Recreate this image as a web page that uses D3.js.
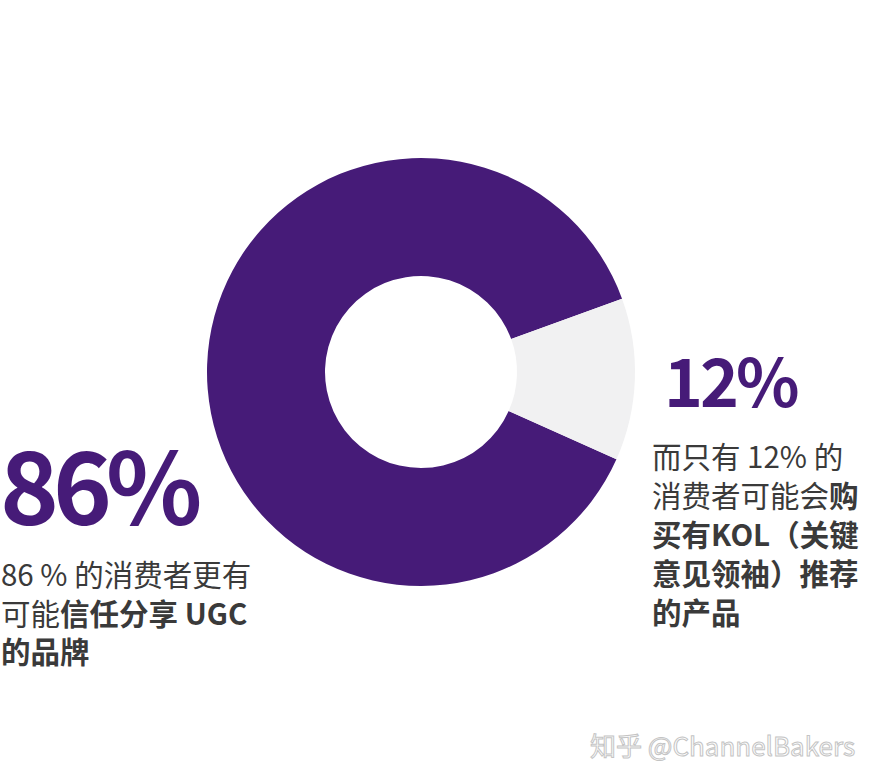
<!DOCTYPE html>
<html>
<head>
<meta charset="utf-8">
<script src="https://cdn.jsdelivr.net/npm/d3@7"></script>
<style>
  html, body { margin: 0; padding: 0; background: #ffffff; }
  svg { display: block; }
  text { font-family: "Noto Sans CJK SC", "Noto Sans", sans-serif; }
</style>
</head>
<body>
<svg id="chart" width="876" height="782"></svg>
<script>
// ---- data ----
const categories = ["信任分享 UGC 的品牌", "购买有KOL推荐的产品"];
const values = [86, 12];
const colors = ["#461b78", "#f1f1f2"];
const bigLabels = ["86%", "12%"];
// description lines: arrays of [text, bold]
const leftLines = [
  [["86 % 的消费者更有", false]],
  [["可能", false], ["信任分享 UGC", true]],
  [["的品牌", true]]
];
const rightLines = [
  [["而只有 12% 的", false]],
  [["消费者可能会", false], ["购", true]],
  [["买有KOL（关键", true]],
  [["意见领袖）推荐", true]],
  [["的产品", true]]
];
const watermark = "知乎 @ChannelBakers";

// ---- layout ----
const svg = d3.select("#chart");
const cx = 421, cy = 372, outerR = 214, innerR = 96;
const total = d3.sum(values);
const graySpan = values[1] / total * 2 * Math.PI;
const grayCenter = 92 * Math.PI / 180;
const start = grayCenter + graySpan / 2;

const pie = d3.pie().sort(null).value(d => d)
  .startAngle(start).endAngle(start + 2 * Math.PI);
const arc = d3.arc().innerRadius(innerR).outerRadius(outerR);

svg.append("g")
  .attr("transform", `translate(${cx},${cy})`)
  .selectAll("path")
  .data(pie(values))
  .join("path")
  .attr("d", arc)
  .attr("fill", (d, i) => colors[i]);

// big labels
svg.append("text")
  .attr("x", 0).attr("y", 525)
  .attr("font-size", 100).attr("font-weight", 700)
  .attr("letter-spacing", -6)
  .attr("fill", colors[0])
  .text(bigLabels[0]);

svg.append("text")
  .attr("x", 664).attr("y", 407)
  .attr("font-size", 66).attr("font-weight", 700)
  .attr("letter-spacing", -3)
  .attr("fill", colors[0])
  .text(bigLabels[1]);

function drawLines(lines, x, y0, lh) {
  lines.forEach((segs, i) => {
    const t = svg.append("text")
      .attr("x", x).attr("y", y0 + i * lh)
      .attr("font-size", 29.5)
      .attr("fill", "#3a3a3a");
    segs.forEach(([s, b]) => {
      t.append("tspan").attr("font-weight", b ? 700 : 400).text(s);
    });
  });
}
drawLines(leftLines, 1, 586, 38.5);
drawLines(rightLines, 652, 468, 39);

// watermark
svg.append("text")
  .attr("x", 590).attr("y", 756)
  .attr("font-size", 26)
  .attr("fill", "#ffffff")
  .attr("stroke", "#c4c4c4")
  .attr("stroke-width", 1)
  .text(watermark);
</script>
</body>
</html>
